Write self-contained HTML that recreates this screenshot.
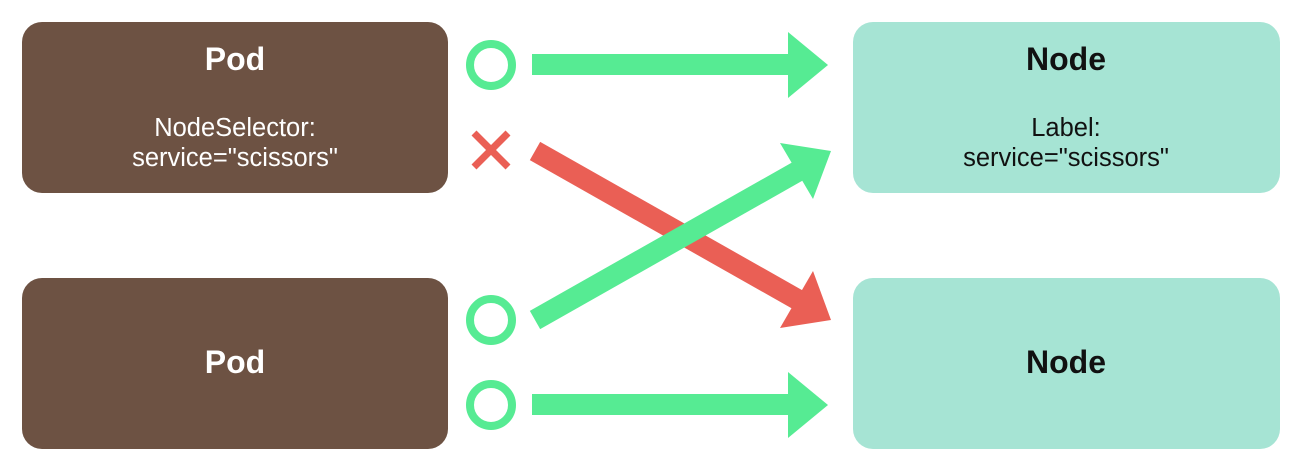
<!DOCTYPE html>
<html><head><meta charset="utf-8"><style>
html,body{margin:0;padding:0;background:#fff;}
svg{display:block}
</style></head><body>
<svg width="1300" height="469" viewBox="0 0 1300 469" xmlns="http://www.w3.org/2000/svg" font-family="Liberation Sans, Arial, sans-serif">
<rect x="22" y="22" width="426" height="171" rx="20" fill="#6d5243"/>
<rect x="22" y="278" width="426" height="171" rx="20" fill="#6d5243"/>
<rect x="853" y="22" width="427" height="171" rx="20" fill="#a6e4d4"/>
<rect x="853" y="278" width="427" height="171" rx="20" fill="#a6e4d4"/>
<text x="235" y="70" text-anchor="middle" font-size="32" font-weight="bold" fill="#fff">Pod</text>
<text x="235" y="136" text-anchor="middle" font-size="25.5" fill="#fff">NodeSelector:</text>
<text x="235" y="166" text-anchor="middle" font-size="25.5" fill="#fff">service="scissors"</text>
<text x="235" y="373" text-anchor="middle" font-size="32" font-weight="bold" fill="#fff">Pod</text>
<text x="1066" y="70" text-anchor="middle" font-size="32" font-weight="bold" fill="#111">Node</text>
<text x="1066" y="136" text-anchor="middle" font-size="25.5" fill="#111">Label:</text>
<text x="1066" y="166" text-anchor="middle" font-size="25.5" fill="#111">service="scissors"</text>
<text x="1066" y="373" text-anchor="middle" font-size="32" font-weight="bold" fill="#111">Node</text>
<g fill="none" stroke="#56eb93" stroke-width="8">
<circle cx="491" cy="65" r="21"/>
<circle cx="491" cy="320" r="21"/>
<circle cx="491" cy="405" r="21"/>
</g>
<g stroke="#ea5f55" stroke-width="7">
<line x1="474" y1="133" x2="508" y2="167"/>
<line x1="508" y1="133" x2="474" y2="167"/>
</g>
<line x1="535" y1="151" x2="800" y2="301" stroke="#ea5f55" stroke-width="21"/>
<polygon points="831,320 780,328 813,271" fill="#ea5f55"/>
<line x1="535" y1="320" x2="800" y2="170" stroke="#56eb93" stroke-width="21"/>
<polygon points="831,151 813,199 780,143" fill="#56eb93"/>
<rect x="532" y="54" width="258" height="21" fill="#56eb93"/>
<polygon points="788,32 828,65 788,98" fill="#56eb93"/>
<rect x="532" y="394" width="258" height="21" fill="#56eb93"/>
<polygon points="788,372 828,405 788,438" fill="#56eb93"/>
</svg>
</body></html>
